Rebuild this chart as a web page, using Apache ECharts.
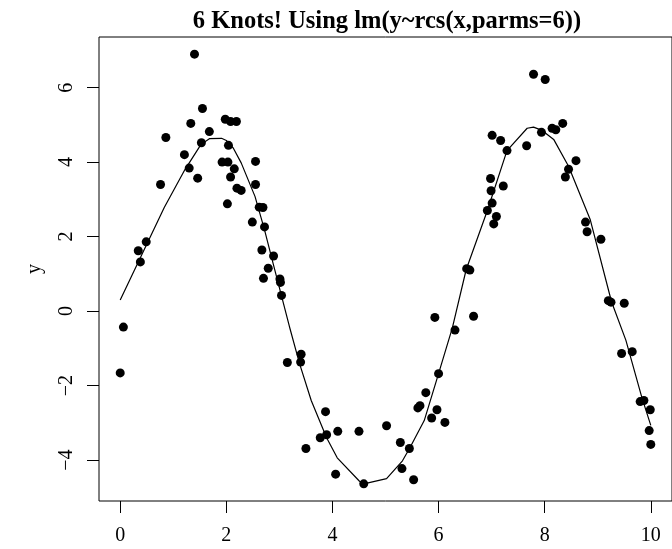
<!DOCTYPE html>
<html>
<head>
<meta charset="utf-8">
<script src="https://cdn.jsdelivr.net/npm/echarts@6/dist/echarts.min.js"></script>
<style>html,body{margin:0;padding:0;background:#fff}#c{width:672px;height:549px}</style>
</head>
<body>
<div id="c"></div>
<script>
// observed points
var xVals = [0.00,0.06,0.34,0.38,0.49,0.76,0.86,1.21,1.30,1.33,1.40,1.46,1.53,1.55,1.68,1.92,1.98,2.02,2.03,2.04,
  2.08,2.08,2.15,2.19,2.20,2.28,2.49,2.55,2.55,2.62,2.69,2.67,2.72,2.70,2.79,2.89,3.01,3.02,3.04,3.15,
  3.40,3.41,3.50,3.77,3.87,3.89,4.06,4.10,4.50,4.59,5.02,5.28,5.31,5.45,5.53,5.61,5.65,5.76,5.87,5.93,
  5.97,6.00,6.12,6.31,6.53,6.59,6.66,6.92,6.98,6.99,7.01,7.01,7.04,7.09,7.17,7.22,7.29,7.66,7.79,7.94,
  8.01,8.14,8.21,8.34,8.39,8.45,8.59,8.77,8.80,9.06,9.20,9.25,9.50,9.45,9.65,9.80,9.87,9.99,9.97,10.00];
var yVals = [-1.66,-0.43,1.62,1.32,1.86,3.40,4.66,4.20,3.84,5.04,6.90,3.57,4.52,5.44,4.82,4.00,5.15,2.88,4.00,4.45,
  5.09,3.60,3.82,5.09,3.30,3.24,2.39,4.02,3.40,2.79,2.78,1.64,2.26,0.88,1.15,1.48,0.86,0.77,0.42,-1.38,
  -1.37,-1.16,-3.69,-3.40,-2.70,-3.32,-4.38,-3.23,-3.23,-4.64,-3.08,-3.53,-4.23,-3.69,-4.53,-2.60,-2.54,-2.19,-2.87,-0.17,
  -2.65,-1.68,-2.99,-0.51,1.14,1.10,-0.14,2.70,3.56,3.23,2.90,4.72,2.34,2.54,4.58,3.36,4.31,4.44,6.36,4.80,
  6.22,4.91,4.87,5.04,3.60,3.81,4.04,2.39,2.13,1.93,0.28,0.24,0.21,-1.14,-1.09,-2.43,-2.40,-2.65,-3.21,-3.58];
// fitted curve
var fitX = [0,0.83,1.22,1.52,1.68,1.91,2.00,2.13,2.28,2.54,2.72,2.88,3.19,3.38,3.60,3.89,4.09,4.51,4.59,5.02,
  5.32,5.46,5.73,6.00,6.26,6.52,6.92,7.29,7.67,7.79,7.94,8.17,8.45,8.86,9.26,9.53,9.83,10.00];
var fitY = [0.30,2.78,3.80,4.47,4.63,4.64,4.58,4.38,3.98,3.08,2.18,1.29,-0.42,-1.41,-2.40,-3.40,-3.94,-4.57,-4.64,-4.50,
  -4.02,-3.67,-2.94,-1.68,-0.45,1.11,2.70,4.31,4.91,4.94,4.86,4.61,3.89,2.45,0.25,-0.78,-2.31,-3.07];
var xTicks = [0,2,4,6,8,10];
var yTicks = [-4,-2,0,2,4,6];
var titleText = '6 Knots! Using lm(y~rcs(x,parms=6))';

var FONT = '"Liberation Serif","Times New Roman",serif';
var pts = xVals.map(function(x,i){return [x,yVals[i]];});
var fit = fitX.map(function(x,i){return [x,fitY[i]];});
function fmt(v){return String(v).replace('-','\u2212');}

var chart = echarts.init(document.getElementById('c'), null, {renderer:'canvas'});
chart.setOption({
  animation:false,
  backgroundColor:'#fff',
  title:{text:titleText,left:382,top:4,textAlign:'center',
    textStyle:{fontFamily:FONT,fontWeight:'bold',fontSize:24.5,color:'#000'}},
  grid:{left:99,top:37,width:575,height:464,show:true,borderColor:'#000',borderWidth:1,backgroundColor:'transparent'},
  xAxis:{type:'value',min:-0.4,max:10.4,
    axisLine:{show:false,onZero:false},
    splitLine:{show:false},
    axisTick:{show:true,inside:false,length:12,customValues:xTicks,lineStyle:{color:'#000',width:1}},
    axisLabel:{show:true,customValues:xTicks,margin:25,fontFamily:FONT,fontSize:20,color:'#000',formatter:fmt}},
  yAxis:{type:'value',min:-5.10,max:7.36,
    name:'y',nameLocation:'middle',nameGap:54,nameRotate:90,
    nameTextStyle:{fontFamily:FONT,fontSize:20,color:'#000'},
    axisLine:{show:false,onZero:false},
    splitLine:{show:false},
    axisTick:{show:true,inside:false,length:12,customValues:yTicks,lineStyle:{color:'#000',width:1}},
    axisLabel:{show:true,customValues:yTicks,rotate:90,margin:22,fontFamily:FONT,fontSize:20,color:'#000',formatter:fmt}},
  series:[
    {type:'line',data:fit,smooth:false,showSymbol:false,symbol:'none',
      lineStyle:{color:'#000',width:1.2},z:2},
    {type:'scatter',data:pts,symbol:'circle',symbolSize:9,
      itemStyle:{color:'#000',opacity:1},z:3}
  ]
});
</script>
</body>
</html>
